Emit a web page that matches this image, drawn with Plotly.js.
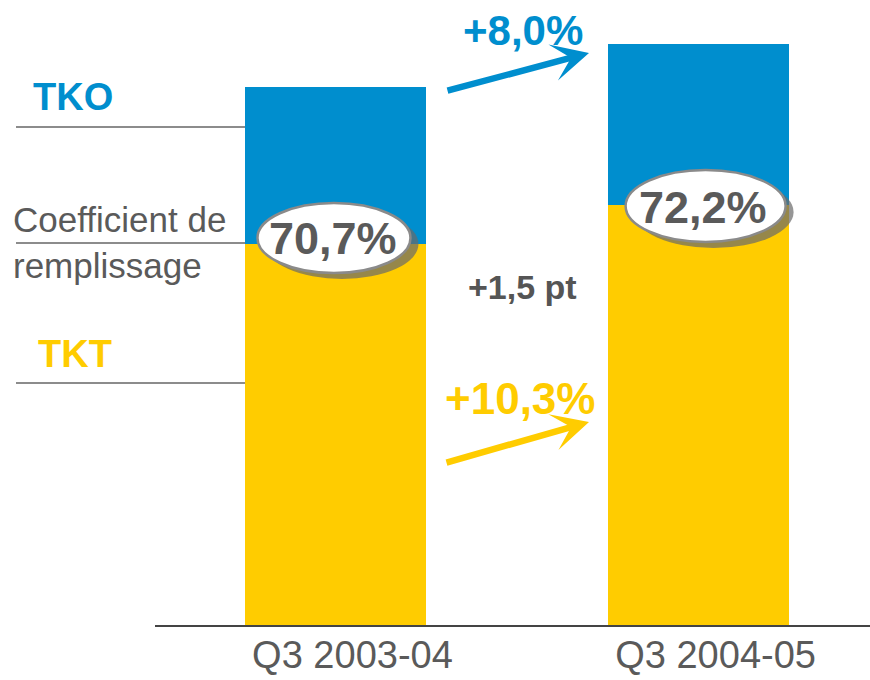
<!DOCTYPE html>
<html>
<head>
<meta charset="utf-8">
<script src="https://cdn.plot.ly/plotly-3.0.1.min.js"></script>
<style>html,body{margin:0;padding:0;background:#fff;}#chart{width:870px;height:680px;}</style>
</head>
<body>
<div id="chart"></div>
<script>
// ---- data ----
var categories = ['Q3 2003-04', 'Q3 2004-05'];
var tkt = [38.1, 42.0];          // TKT (yellow, bottom segment)
var tkoExtra = [15.7, 16.1];     // TKO minus TKT (blue, top segment)
var loadFactorLabels = ['70,7%', '72,2%'];
var tkoGrowthLabel = '+8,0%';
var tktGrowthLabel = '+10,3%';
var lfChangeLabel = '+1,5 pt';

var BLUE = '#008ECE', YELLOW = '#FFCC00', GRAY = '#5a5a5a', LINE = '#8c8c8c';
var FONT = '"Liberation Sans", Arial, sans-serif';

// plot area: x 155..870, y 0..625 px
function px2paperX(px){ return (px - 155) / 715; }
function px2paperY(py){ return (625 - py) / 625; }

var traces = [
  {type:'bar', x:categories, y:tkt, name:'TKT', marker:{color:YELLOW}, width:0.5, hoverinfo:'none'},
  {type:'bar', x:categories, y:tkoExtra, name:'TKO', marker:{color:BLUE}, width:0.5, hoverinfo:'none'}
];

var shapes = [];
// leader lines on the left
[127, 243, 383].forEach(function(py){
  shapes.push({type:'line', xref:'paper', yref:'paper', x0:px2paperX(16), x1:px2paperX(245),
    y0:px2paperY(py), y1:px2paperY(py), line:{color:LINE, width:2}, layer:'above'});
});
// ellipses (shadow + white)
var ell = [
  {xi:0, yv:tkt[0], x0:-78, x1:75, y0:-29, y1:41},
  {xi:1, yv:tkt[1], x0:-73, x1:87, y0:-37, y1:35}
];
ell.forEach(function(e){
  shapes.push({type:'circle', xref:'x', yref:'y', xsizemode:'pixel', ysizemode:'pixel',
    xanchor:e.xi, yanchor:e.yv, x0:e.x0+8, x1:e.x1+8, y0:e.y0-6, y1:e.y1-6,
    fillcolor:'rgba(105,105,105,0.7)', line:{width:0}, layer:'above'});
  shapes.push({type:'circle', xref:'x', yref:'y', xsizemode:'pixel', ysizemode:'pixel',
    xanchor:e.xi, yanchor:e.yv, x0:e.x0, x1:e.x1, y0:e.y0, y1:e.y1,
    fillcolor:'#ffffff', line:{color:'#8a8a8a', width:2.5}, layer:'above'});
});

var annotations = [
  {xref:'paper', yref:'paper', x:px2paperX(73), y:px2paperY(97), text:'<b>TKO</b>', showarrow:false,
   font:{family:FONT, size:38, color:BLUE}, xanchor:'center', yanchor:'middle'},
  {xref:'paper', yref:'paper', x:px2paperX(75), y:px2paperY(354), text:'<b>TKT</b>', showarrow:false,
   font:{family:FONT, size:38, color:YELLOW}, xanchor:'center', yanchor:'middle'},
  {xref:'paper', yref:'paper', x:px2paperX(11), y:px2paperY(242), text:'Coefficient de<br>remplissage', showarrow:false,
   font:{family:FONT, size:35, color:GRAY}, xanchor:'left', yanchor:'middle', align:'left'},
  {xref:'x', yref:'y', x:0, y:tkt[0], xshift:-2, yshift:6, text:'<b>'+loadFactorLabels[0]+'</b>', showarrow:false,
   font:{family:FONT, size:45, color:GRAY}, xanchor:'center', yanchor:'middle'},
  {xref:'x', yref:'y', x:1, y:tkt[1], xshift:4, yshift:-2, text:'<b>'+loadFactorLabels[1]+'</b>', showarrow:false,
   font:{family:FONT, size:45, color:GRAY}, xanchor:'center', yanchor:'middle'},
  {xref:'paper', yref:'paper', x:px2paperX(523), y:px2paperY(31), text:'<b>'+tkoGrowthLabel+'</b>', showarrow:false,
   font:{family:FONT, size:42, color:BLUE}, xanchor:'center', yanchor:'middle'},
  {xref:'paper', yref:'paper', x:px2paperX(520), y:px2paperY(398), text:'<b>'+tktGrowthLabel+'</b>', showarrow:false,
   font:{family:FONT, size:44, color:YELLOW}, xanchor:'center', yanchor:'middle'},
  {xref:'paper', yref:'paper', x:px2paperX(522), y:px2paperY(287), text:'<b>'+lfChangeLabel+'</b>', showarrow:false,
   font:{family:FONT, size:34, color:'#555555'}, xanchor:'center', yanchor:'middle'},
  // arrows
  {xref:'paper', yref:'paper', x:px2paperX(589), y:px2paperY(53), ax:-143, ay:38, text:'', showarrow:true,
   arrowhead:3, arrowsize:0.95, arrowwidth:6.5, arrowcolor:BLUE, standoff:0, startstandoff:0},
  {xref:'paper', yref:'paper', x:px2paperX(589), y:px2paperY(422), ax:-144, ay:41, text:'', showarrow:true,
   arrowhead:3, arrowsize:0.95, arrowwidth:6.5, arrowcolor:YELLOW, standoff:0, startstandoff:0}
];

var layout = {
  width:870, height:680,
  margin:{l:155, r:0, t:0, b:55, pad:0},
  paper_bgcolor:'#ffffff', plot_bgcolor:'#ffffff',
  barmode:'stack', showlegend:false,
  font:{family:FONT, color:GRAY},
  xaxis:{type:'category', range:[-0.497, 1.472], showline:true, linecolor:'#444444', linewidth:2,
    ticks:'', showgrid:false, zeroline:false, tickfont:{family:FONT, size:38, color:GRAY},
    ticklabelshift:17, ticklabelstandoff:-5, fixedrange:true},
  yaxis:{range:[0, 62.5], visible:false, showgrid:false, zeroline:false, fixedrange:true},
  shapes:shapes, annotations:annotations
};

Plotly.newPlot('chart', traces, layout, {displayModeBar:false, staticPlot:true});
</script>
</body>
</html>
